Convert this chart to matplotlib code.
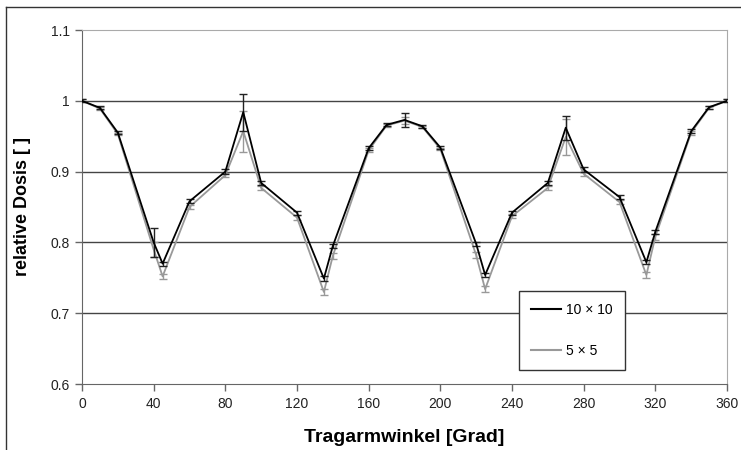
import matplotlib
matplotlib.use("Agg")
import matplotlib.pyplot as plt
from matplotlib.lines import Line2D

# Tragarmwinkel in Grad
angles = [0, 10, 20, 40, 45, 60, 80, 90, 100, 120, 135, 140, 160, 170, 180,
          190, 200, 220, 225, 240, 260, 270, 280, 300, 315, 320, 340, 350, 360]

# Feld 10 x 10
dose_10 = [1.0, 0.99, 0.955, 0.80, 0.77, 0.858, 0.90, 0.984, 0.884, 0.842,
           0.749, 0.795, 0.933, 0.966, 0.973, 0.964, 0.934, 0.798, 0.754,
           0.842, 0.884, 0.962, 0.903, 0.864, 0.772, 0.815, 0.957, 0.991, 1.0]
err_10 = [0.002, 0.002, 0.002, 0.02, 0.003, 0.003, 0.003, 0.026, 0.003, 0.003,
          0.003, 0.003, 0.003, 0.002, 0.01, 0.002, 0.002, 0.003, 0.003,
          0.003, 0.003, 0.017, 0.003, 0.003, 0.003, 0.003, 0.003, 0.002, 0.002]

# Feld 5 x 5
dose_5 = [1.0, 0.989, 0.953, 0.79, 0.752, 0.850, 0.895, 0.957, 0.877, 0.835,
          0.730, 0.781, 0.930, 0.965, 0.972, 0.963, 0.932, 0.782, 0.734,
          0.837, 0.877, 0.949, 0.897, 0.857, 0.754, 0.808, 0.955, 0.990, 1.0]
err_5 = [0.002, 0.002, 0.002, 0.01, 0.004, 0.003, 0.003, 0.029, 0.003, 0.003,
         0.004, 0.004, 0.003, 0.002, 0.005, 0.002, 0.002, 0.004, 0.004,
         0.003, 0.003, 0.026, 0.003, 0.003, 0.004, 0.004, 0.003, 0.002, 0.002]

x_ticks = list(range(0, 361, 40))
y_ticks = [0.6, 0.7, 0.8, 0.9, 1.0, 1.1]
y_tick_labels = ["0.6", "0.7", "0.8", "0.9", "1", "1.1"]

plt.rcParams['font.family'] = ['Liberation Sans', 'DejaVu Sans']

fig = plt.figure(figsize=(7.41, 4.5), dpi=100)
ax = fig.add_axes([82 / 741, 1 - 384 / 450, 645 / 741, 354 / 450])

# outer chart frame (top and left edge of the cropped chart)
fig.add_artist(Line2D([6 / 741, 1.0], [1 - 7 / 450, 1 - 7 / 450], color="#333333", lw=1.0))
fig.add_artist(Line2D([6 / 741, 6 / 741], [0, 1 - 7 / 450], color="#333333", lw=1.0))

for yv in [0.7, 0.8, 0.9, 1.0]:
    ax.axhline(yv, color="#444444", lw=1.0, zorder=1)

ax.errorbar(angles, dose_5, yerr=err_5, color="#999999", ecolor="#999999",
            lw=1.3, elinewidth=1.0, capsize=3, capthick=1.0, zorder=3)
ax.errorbar(angles, dose_10, yerr=err_10, color="black", ecolor="#222222",
            lw=1.3, elinewidth=1.0, capsize=3, capthick=1.0, zorder=4)

ax.set_xlim(0, 360)
ax.set_ylim(0.6, 1.1)
ax.set_xticks(x_ticks)
ax.set_yticks(y_ticks)
ax.set_yticklabels(y_tick_labels)
ax.tick_params(direction="out", length=5, width=1, color="#666666", labelsize=10,
               labelcolor="#222222", pad=4)

for side in ["top", "right"]:
    ax.spines[side].set_color("#aaaaaa")
for side in ["left", "bottom"]:
    ax.spines[side].set_color("#666666")

ax.set_xlabel("Tragarmwinkel [Grad]", fontsize=14, fontweight="bold", labelpad=13)
ax.set_ylabel("relative Dosis [ ]", fontsize=13, fontweight="bold", labelpad=14)

handles = [Line2D([], [], color="black", lw=1.5), Line2D([], [], color="#999999", lw=1.5)]
leg = ax.legend(handles, ["10 × 10", "5 × 5"], loc="upper left",
                bbox_to_anchor=((519 - 82) / 645, (384 - 291) / 354),
                fancybox=False, edgecolor="#333333", framealpha=1, fontsize=10,
                handlelength=2.2, handletextpad=0.35, labelspacing=1.95,
                borderpad=0.85, borderaxespad=0)
leg.get_frame().set_linewidth(1.0)
leg.set_zorder(5)

fig.savefig("out.png", dpi=100)
